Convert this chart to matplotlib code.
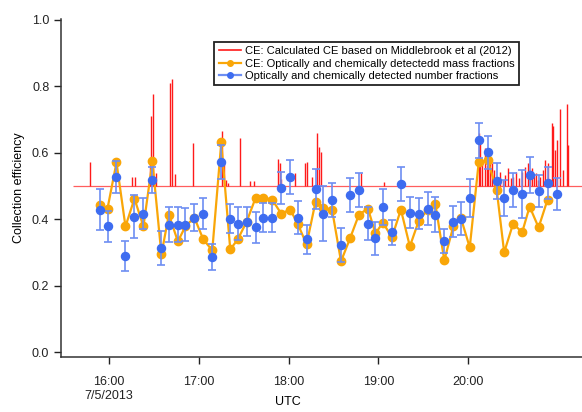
"""Collection efficiency time series, 5 July 2013."""

import matplotlib

matplotlib.use("Agg")
import matplotlib.pyplot as plt
import numpy as np
import pandas as pd
from matplotlib.lines import Line2D

DAY = "2013-07-05 "

# sample times (UTC) of the number/mass fraction points
times = [
    "15:54", "15:59", "16:05", "16:11", "16:17", "16:23", "16:29", "16:35", "16:40", "16:46",
    "16:51", "16:57", "17:03", "17:09", "17:15", "17:21", "17:26", "17:32", "17:38", "17:43",
    "17:49", "17:55", "18:01", "18:06", "18:12", "18:18", "18:23", "18:29", "18:35", "18:41",
    "18:47", "18:53", "18:58", "19:03", "19:09", "19:15", "19:21", "19:27", "19:33", "19:38",
    "19:44", "19:50", "19:55", "20:01", "20:07", "20:13", "20:19", "20:24", "20:30", "20:36",
    "20:41", "20:47", "20:53", "20:59",
]
number_ce = [
    0.429, 0.378, 0.526, 0.288, 0.408, 0.417, 0.517, 0.312, 0.384, 0.384,
    0.384, 0.405, 0.417, 0.285, 0.571, 0.402, 0.387, 0.393, 0.375, 0.405,
    0.405, 0.495, 0.526, 0.405, 0.339, 0.492, 0.417, 0.459, 0.321, 0.474,
    0.489, 0.387, 0.342, 0.438, 0.360, 0.507, 0.420, 0.417, 0.432, 0.414,
    0.333, 0.393, 0.402, 0.465, 0.637, 0.601, 0.514, 0.465, 0.489, 0.477,
    0.532, 0.486, 0.510, 0.477,
]
number_err = [
    0.063, 0.048, 0.048, 0.045, 0.066, 0.048, 0.039, 0.051, 0.054, 0.054,
    0.051, 0.042, 0.048, 0.039, 0.051, 0.045, 0.051, 0.045, 0.048, 0.045,
    0.045, 0.048, 0.051, 0.051, 0.045, 0.060, 0.084, 0.051, 0.051, 0.051,
    0.051, 0.051, 0.051, 0.054, 0.039, 0.051, 0.048, 0.048, 0.051, 0.054,
    0.036, 0.048, 0.051, 0.057, 0.054, 0.051, 0.054, 0.054, 0.051, 0.072,
    0.054, 0.048, 0.048, 0.048,
]
mass_ce = [
    0.444, 0.432, 0.571, 0.378, 0.462, 0.378, 0.574, 0.294, 0.414, 0.333,
    0.378, 0.405, 0.339, 0.306, 0.631, 0.309, 0.339, 0.393, 0.465, 0.465,
    0.459, 0.417, 0.429, 0.387, 0.324, 0.453, 0.435, 0.429, 0.273, 0.342,
    0.414, 0.432, 0.357, 0.390, 0.345, 0.429, 0.318, 0.396, 0.429, 0.447,
    0.276, 0.378, 0.405, 0.315, 0.571, 0.577, 0.489, 0.300, 0.387, 0.360,
    0.438, 0.375, 0.459, np.nan,
]

# Middlebrook CE: baseline 0.5 with spikes
calc_base = 0.5
calc_start, calc_end = "15:36", "21:20"
spike_times = [
    "15:47:20", "16:15:20", "16:17:20", "16:27:20", "16:28:00", "16:29:20", "16:31:20",
    "16:40:40", "16:42:00", "16:44:00", "16:56:00", "17:15:20", "17:16:40", "17:18:00",
    "17:19:20", "17:27:20", "17:34:00", "17:36:40", "17:52:40", "17:54:00", "17:54:40",
    "18:04:00", "18:10:40", "18:12:00", "18:15:20", "18:18:40", "18:20:00", "18:21:20",
    "18:48:40", "19:04:00", "20:07:20", "20:08:00", "20:09:20", "20:11:20", "20:12:40",
    "20:13:20", "20:14:40", "20:16:00", "20:17:20", "20:19:20", "20:21:20", "20:23:20",
    "20:24:40", "20:26:40", "20:28:40", "20:30:00", "20:32:00", "20:34:00", "20:36:00",
    "20:38:00", "20:40:00", "20:41:20", "20:42:40", "20:44:00", "20:45:20", "20:46:40",
    "20:48:00", "20:50:00", "20:51:20", "20:53:20", "20:56:00", "20:56:40", "20:58:00",
    "20:59:20", "21:01:20", "21:03:20", "21:06:00", "21:06:40",
]
spike_peaks = [
    0.571, 0.526, 0.526, 0.580, 0.712, 0.778, 0.538,
    0.811, 0.823, 0.535, 0.628, 0.667, 0.577, 0.517,
    0.508, 0.643, 0.514, 0.514, 0.580, 0.568, 0.520,
    0.538, 0.568, 0.571, 0.526, 0.661, 0.616, 0.601,
    0.538, 0.511, 0.661, 0.637, 0.577, 0.613, 0.562,
    0.556, 0.583, 0.568, 0.547, 0.526, 0.541, 0.517,
    0.532, 0.553, 0.523, 0.526, 0.541, 0.523, 0.541,
    0.556, 0.568, 0.547, 0.553, 0.529, 0.538, 0.517,
    0.526, 0.547, 0.577, 0.568, 0.691, 0.682, 0.607,
    0.637, 0.733, 0.547, 0.748, 0.622,
]

tick_times = ["16:00", "17:00", "18:00", "19:00", "20:00"]
tick_labels = ["16:00\n7/5/2013", "17:00", "18:00", "19:00", "20:00"]
y_ticks = [0.0, 0.2, 0.4, 0.6, 0.8, 1.0]


def when(values):
    return pd.to_datetime([DAY + v for v in values])


plt.rcParams["font.family"] = ["Liberation Sans", "DejaVu Sans"]

RED = "#ff1a1a"
ORANGE = "#f9a608"
BLUE = "#3d6cf0"
BLUE_ERR = "#6d8ef2"

fig = plt.figure(figsize=(5.82, 4.12), dpi=100)
ax = fig.add_axes([0.105, 0.1335, 0.895, 0.8205])

t = when(times)
ax.hlines(calc_base, when([calc_start])[0], when([calc_end])[0], color=RED, lw=0.9, alpha=0.7, zorder=1)
ax.vlines(when(spike_times), calc_base, spike_peaks, color=RED, lw=1.0, zorder=1)

ax.plot(t, mass_ce, color=ORANGE, lw=1.6, marker="o", ms=6.0, mec=ORANGE, zorder=2)
ax.errorbar(t, number_ce, yerr=number_err, fmt="o", color=BLUE, ms=5.8,
            ecolor=BLUE_ERR, elinewidth=1.2, capsize=3, capthick=1.2, zorder=3)

ax.set_xlim(when(["15:28"])[0], when(["21:16"])[0])
ax.set_ylim(-0.015, 1.003)
ax.set_xticks(when(tick_times))
ax.set_xticklabels(tick_labels)
ax.set_yticks(y_ticks)
ax.set_yticklabels([f"{v:.1f}" for v in y_ticks])
ax.tick_params(direction="out", length=5, width=1, labelsize=9, colors="#222222")
ax.tick_params(axis="x", pad=9)
ax.spines["top"].set_visible(False)
ax.spines["right"].set_visible(False)
for side in ("left", "bottom"):
    ax.spines[side].set_linewidth(1.1)
    ax.spines[side].set_color("#333333")

ax.set_xlabel("UTC", fontsize=9, va="center")
ax.xaxis.set_label_coords(0.435, -0.133)
ax.set_ylabel("Collection efficiency", fontsize=9, labelpad=5)

handles = [
    Line2D([], [], color=RED, lw=1.2),
    Line2D([], [], color=ORANGE, lw=1.6, marker="o", ms=4),
    Line2D([], [], color=BLUE_ERR, lw=1.6, marker="o", ms=4, mfc=BLUE, mec=BLUE),
]
labels = [
    "CE: Calculated CE based on Middlebrook et al (2012)",
    "CE: Optically and chemically detectedd mass fractions",
    "Optically and chemically detected number fractions",
]
leg = ax.legend(handles, labels, loc="upper left", bbox_to_anchor=(0.294, 0.932),
                borderaxespad=0, fontsize=8, handlelength=2.0, handletextpad=0.4,
                labelspacing=0.2, borderpad=0.4, fancybox=False, framealpha=1)
leg.get_frame().set_edgecolor("#222222")
leg.get_frame().set_linewidth(1.3)

fig.savefig("out.png", dpi=100)
